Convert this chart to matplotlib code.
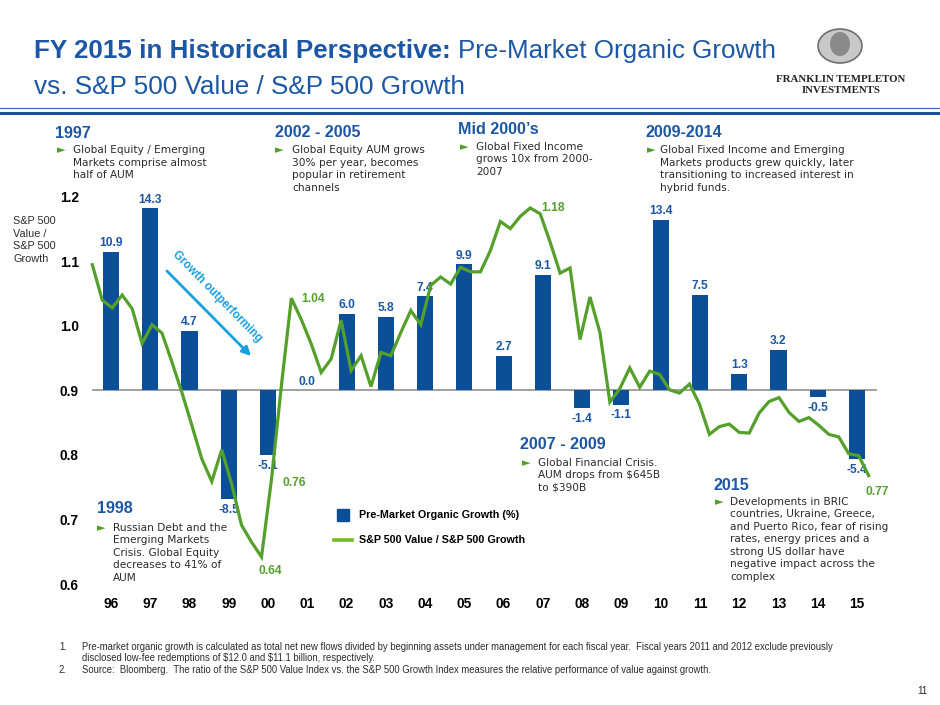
import numpy as np
import matplotlib
matplotlib.use("Agg")
import matplotlib.pyplot as plt
from matplotlib import font_manager
from matplotlib.patches import Rectangle, Ellipse, FancyArrowPatch
from matplotlib.lines import Line2D

# fiscal years and pre-market organic growth (%)
years = ["96", "97", "98", "99", "00", "01", "02", "03", "04", "05",
         "06", "07", "08", "09", "10", "11", "12", "13", "14", "15"]
organic_growth = [10.9, 14.3, 4.7, -8.5, -5.1, 0.0, 6.0, 5.8, 7.4, 9.9,
                  2.7, 9.1, -1.4, -1.1, 13.4, 7.5, 1.3, 3.2, -0.5, -5.4]

# quarterly S&P 500 Value / S&P 500 Growth ratio
value_growth_ratio = [
    1.095, 1.040, 1.028, 1.048, 1.027, 0.973, 1.002, 0.989,
    0.944, 0.897, 0.846, 0.794, 0.759, 0.808, 0.755, 0.691,
    0.665, 0.642, 0.762, 0.908, 1.043, 1.010, 0.972, 0.928,
    0.949, 1.009, 0.931, 0.954, 0.906, 0.959, 0.954, 0.990,
    1.024, 1.002, 1.063, 1.076, 1.065, 1.091, 1.084, 1.084,
    1.117, 1.162, 1.151, 1.170, 1.183, 1.174, 1.130, 1.082,
    1.090, 0.979, 1.045, 0.990, 0.882, 0.903, 0.935, 0.905,
    0.930, 0.925, 0.901, 0.896, 0.910, 0.879, 0.832, 0.844,
    0.848, 0.835, 0.834, 0.865, 0.883, 0.889, 0.866, 0.852,
    0.858, 0.846, 0.832, 0.828, 0.802, 0.799, 0.768,
]
ratio_ticks = [0.6, 0.7, 0.8, 0.9, 1.0, 1.1, 1.2]
# which quarters get a value label: index -> (dx px, dy px, ha)
ratio_label_spots = {17: (9, -14, "center"), 18: (11, -3, "left"),
                     20: (10, -1, "left"), 44: (11, 0, "left"),
                     78: (9, -16, "center")}

W, H = 940, 705
BLUE_BAR = "#0b4f99"
BLUE_TXT = "#1c57a5"
GREEN = "#55a02b"
GREEN_LEG = "#76bc21"
CYAN = "#1a9fe0"
GREY_TXT = "#2b2b2b"


def has_font(name):
    try:
        font_manager.findfont(name, fallback_to_default=False)
        return True
    except ValueError:
        return False


HAS_NARROW = has_font("Liberation Sans Narrow")


def narrow(size, **kw):
    # condensed Arial-like face, or regular Liberation Sans shrunk a bit
    if HAS_NARROW:
        return dict(family="Liberation Sans Narrow", fontsize=size, **kw)
    return dict(family="Liberation Sans", fontsize=size * 0.84, **kw)


def fx(x):
    return x / W


def fy(y):
    return 1 - y / H


fig = plt.figure(figsize=(W / 100, H / 100), dpi=100)

# ---- header ----
fig.text(fx(34), fy(58), "FY 2015 in Historical Perspective:", color=BLUE_TXT,
         **narrow(22.3, weight="bold"))
t1 = fig.text(fx(34), fy(58), "FY 2015 in Historical Perspective: ", alpha=0,
              **narrow(22.3, weight="bold"))
fig.canvas.draw()
bb = t1.get_window_extent()
fig.text(bb.x1 / W, fy(58), "Pre-Market Organic Growth", color=BLUE_TXT,
         **narrow(22.3))
fig.text(fx(34), fy(94), "vs. S&P 500 Value / S&P 500 Growth", color=BLUE_TXT,
         **narrow(22.4))
fig.add_artist(Line2D([0, 1], [fy(107.5), fy(107.5)], transform=fig.transFigure,
                      color="#3a72b8", lw=0.9))
fig.add_artist(Line2D([0, 1], [fy(112.5), fy(112.5)], transform=fig.transFigure,
                      color="#1c4f9c", lw=2.2))

# logo stand-in
fig.add_artist(Ellipse((fx(840), fy(46)), 44 / W, 34 / H, transform=fig.transFigure,
                       facecolor="#c8c8c8", edgecolor="#6e6e6e", lw=1.2))
fig.add_artist(Ellipse((fx(840), fy(44)), 20 / W, 24 / H, transform=fig.transFigure,
                       facecolor="#8a8a8a", edgecolor="none"))
fig.text(fx(841), fy(82), "FRANKLIN TEMPLETON", ha="center", family="Liberation Serif",
         weight="bold", fontsize=7.8, color="#222222")
fig.text(fx(841), fy(93), "INVESTMENTS", ha="center", family="Liberation Serif",
         weight="bold", fontsize=7.8, color="#222222")

# ---- chart ----
ax = fig.add_axes([fx(92), fy(584), (877 - 92) / W, (584 - 197) / H])
axb = ax.twinx()
ax.set_zorder(axb.get_zorder() + 1)
ax.patch.set_visible(False)

x = np.arange(len(years))
bars = axb.bar(x, organic_growth, width=0.41, color=BLUE_BAR, zorder=2)
axb.axhline(0, color="#9a9a9a", lw=1.3, zorder=1)
axb.set_ylim(-15.2, 15.2)
axb.set_yticks([])

for i, v in enumerate(organic_growth):
    if v >= 0:
        axb.annotate(f"{v:.1f}", (i, v), xytext=(0, 2), textcoords="offset points",
                     ha="center", va="bottom", color=BLUE_TXT, **narrow(10.3, weight="bold"))
    else:
        axb.annotate(f"{v:.1f}", (i, v), xytext=(0, -3.5), textcoords="offset points",
                     ha="center", va="top", color=BLUE_TXT, **narrow(10.3, weight="bold"))

quarter_pos = -0.476 + 0.2535 * np.arange(len(value_growth_ratio))
ax.plot(quarter_pos, value_growth_ratio, color=GREEN, lw=2.3, clip_on=False,
        solid_joinstyle="miter")
for k, (dx, dy, ha) in ratio_label_spots.items():
    ax.annotate(f"{value_growth_ratio[k]:.2f}", (quarter_pos[k], value_growth_ratio[k]),
                xytext=(dx * 0.72, dy * 0.72), textcoords="offset points",
                ha=ha, va="center", color=GREEN, **narrow(10.3, weight="bold"))

ax.set_xlim(-0.484, 19.51)
ax.set_ylim(0.6, 1.2)
ax.set_yticks(ratio_ticks)
ax.set_yticklabels([f"{t:.1f}" for t in ratio_ticks])
ax.set_xticks(x)
ax.set_xticklabels(years)
ax.tick_params(length=0, pad=9.5)
tick_font = narrow(11.8, weight="bold")
for lab in ax.get_xticklabels() + ax.get_yticklabels():
    lab.set_family(tick_font["family"])
    lab.set_fontsize(tick_font["fontsize"])
    lab.set_weight("bold")
for a in (ax, axb):
    for s in a.spines.values():
        s.set_visible(False)

# axis caption on the left
for j, s in enumerate(["S&P 500", "Value /", "S&P 500", "Growth"]):
    fig.text(fx(13), fy(224 + 12.6 * j), s, family="Liberation Sans", fontsize=7.8,
             color=GREY_TXT)

# growth outperforming arrow
fig.add_artist(FancyArrowPatch((fx(165), fy(269)), (fx(253), fy(358)),
                               transform=fig.transFigure, arrowstyle="-|>",
                               mutation_scale=13, color=CYAN, lw=2))
fig.text(fx(217.5), fy(296.7), "Growth outperforming", rotation=-45.6,
         rotation_mode="anchor", ha="center", va="center", color=CYAN,
         family="Liberation Sans", weight="bold", fontsize=8.3)

# legend
fig.add_artist(Rectangle((fx(337), fy(521)), 12 / W, 12 / H, transform=fig.transFigure,
                         color=BLUE_BAR))
fig.add_artist(Line2D([fx(334), fx(352)], [fy(540), fy(540)], transform=fig.transFigure,
                      color=GREEN_LEG, lw=2.6))
fig.text(fx(359), fy(515), "Pre-Market Organic Growth (%)", va="center", color="black",
         **narrow(9.2, weight="bold"))
fig.text(fx(359), fy(540), "S&P 500 Value / S&P 500 Growth", va="center", color="black",
         **narrow(9.2, weight="bold"))

# ---- call-outs ----
callouts = [
    (55, 138, "1997", 57, 73, 153.3,
     ["Global Equity / Emerging", "Markets comprise almost", "half of AUM"]),
    (275, 137, "2002 - 2005", 275, 292, 153.3,
     ["Global Equity AUM grows", "30% per year, becomes", "popular in retirement", "channels"]),
    (458, 134.3, "Mid 2000\u2019s", 460, 476, 150,
     ["Global Fixed Income", "grows 10x from 2000-", "2007"]),
    (646, 136.7, "2009-2014", 647, 660, 153.3,
     ["Global Fixed Income and Emerging", "Markets products grew quickly, later",
      "transitioning to increased interest in", "hybrid funds."]),
    (97, 512.7, "1998", 97, 113, 530.7,
     ["Russian Debt and the", "Emerging Markets", "Crisis. Global Equity",
      "decreases to 41% of", "AUM"]),
    (520, 449.3, "2007 - 2009", 522, 538, 466,
     ["Global Financial Crisis.", "AUM drops from \\$645B", "to \\$390B"]),
    (713, 490, "2015", 715, 730, 504.7,
     ["Developments in BRIC", "countries, Ukraine, Greece,", "and Puerto Rico, fear of rising",
      "rates, energy prices and a", "strong US dollar have",
      "negative impact across the", "complex"]),
]
for hx, hy, head, bx, tx, ty, lines in callouts:
    fig.text(fx(hx), fy(hy), head, family="Liberation Sans", weight="bold",
             fontsize=11.6, color=BLUE_TXT)
    fig.text(fx(bx), fy(ty), "\u25ba", family="DejaVu Sans", fontsize=8, color=GREEN)
    for j, s in enumerate(lines):
        fig.text(fx(tx), fy(ty + 12.5 * j), s, family="DejaVu Sans", fontsize=7.6,
                 color=GREY_TXT)

# ---- footnotes ----
notes = [
    (649.5, "1.", "Pre-market organic growth is calculated as total net new flows divided by "
     "beginning assets under management for each fiscal year.  Fiscal years 2011 and 2012 "
     "exclude previously"),
    (661, "", "disclosed low-fee redemptions of \\$12.0 and \\$11.1 billion, respectively."),
    (673, "2.", "Source:  Bloomberg.  The ratio of the S&P 500 Value Index vs. the S&P 500 "
     "Growth Index measures the relative performance of value against growth."),
]
for ny, num, s in notes:
    if num:
        fig.text(fx(59), fy(ny), num, color=GREY_TXT, **narrow(8.2))
    fig.text(fx(82), fy(ny), s, color=GREY_TXT, **narrow(8.2))
fig.text(fx(928), fy(694), "11", ha="right", color=GREY_TXT, **narrow(8.5))

fig.savefig("out.png", dpi=100)
